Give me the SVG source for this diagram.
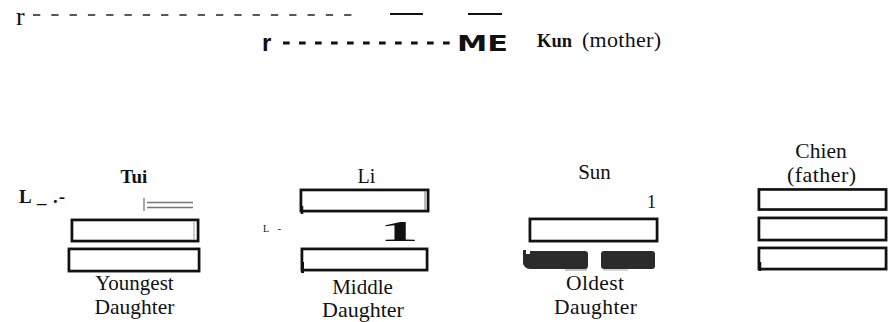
<svg xmlns="http://www.w3.org/2000/svg" width="890" height="322" viewBox="0 0 890 322">
<style>
.serif{font-family:"Liberation Serif","Times New Roman",serif;fill:#111}
.b{font-weight:bold}
.bar{fill:#fff;stroke:#111;stroke-width:2.6}
.halo{fill:none;stroke:#9a9a9a;stroke-width:1}
.blk{fill:#2b2b2b}
.grey{stroke:#777;stroke-width:1.3;fill:none}
</style>
<rect width="890" height="322" fill="#fff"/>
<g id="lines">
  <line x1="33" y1="15" x2="352" y2="15" stroke="#222" stroke-width="1.4" stroke-dasharray="7.3 11"/>
  <line x1="390" y1="14" x2="423" y2="14" stroke="#111" stroke-width="1.8"/>
  <line x1="468" y1="14" x2="502" y2="14" stroke="#111" stroke-width="1.8"/>
  <line x1="283" y1="43" x2="450" y2="43" stroke="#111" stroke-width="3" stroke-dasharray="6.7 9.3"/>
</g>
<g id="kun">
  <text class="serif" x="16" y="25" font-size="26">r</text>
  <text x="262" y="51" font-size="24" font-weight="bold" font-family="Liberation Sans, Arial, sans-serif" fill="#111">r</text>
  <text x="457" y="51" font-size="20.5" font-weight="bold" font-family="DejaVu Sans, sans-serif" fill="#111" textLength="51" lengthAdjust="spacingAndGlyphs">ME</text>
  <text class="serif b" x="537" y="47" font-size="18.5">Kun</text>
  <text class="serif" x="582" y="47" font-size="22" textLength="79">(mother)</text>
</g>
<g id="tui">
  <text class="serif b" x="134" y="183" font-size="19" text-anchor="middle">Tui</text>
  <text class="serif b" x="19" y="203" font-size="19" textLength="46">L _ .-</text>
  <line class="grey" x1="144" y1="198" x2="144" y2="211"/>
  <line class="grey" x1="147" y1="202.5" x2="193" y2="202.5"/>
  <line class="grey" x1="147" y1="207.5" x2="193" y2="207.5"/>
  <rect class="halo" x="71" y="219" width="128" height="23"/>
  <rect class="bar" x="72" y="220" width="126" height="21"/>
  <line x1="194" y1="222" x2="194" y2="239" stroke="#999" stroke-width="1"/>
  <rect class="halo" x="68" y="248" width="132" height="24"/>
  <rect class="bar" x="69" y="249" width="130" height="22"/>
  <text class="serif" x="134.5" y="290" font-size="21" text-anchor="middle">Youngest</text>
  <text class="serif" x="134.5" y="314" font-size="21.5" text-anchor="middle">Daughter</text>
</g>
<g id="li">
  <text class="serif" x="366.5" y="183" font-size="20" text-anchor="middle">Li</text>
  <rect class="halo" x="300" y="189" width="129" height="23"/>
  <rect class="bar" x="301" y="190" width="127" height="21"/>
  <line x1="425" y1="191" x2="425" y2="210" stroke="#777" stroke-width="1"/>
  <line x1="302" y1="206" x2="302" y2="214" stroke="#111" stroke-width="2.5"/>
  <text class="serif" x="263" y="232" font-size="10" textLength="18">L -</text>
  <text class="serif b" x="379" y="241" font-size="29" textLength="40" lengthAdjust="spacingAndGlyphs">1</text>
  <rect class="halo" x="301" y="248" width="127" height="23"/>
  <rect class="bar" x="302" y="249" width="125" height="21"/>
  <line x1="302.5" y1="262" x2="302.5" y2="273" stroke="#111" stroke-width="3"/>
  <text class="serif" x="362.5" y="294" font-size="21" text-anchor="middle">Middle</text>
  <text class="serif" x="363" y="317" font-size="22" text-anchor="middle">Daughter</text>
</g>
<g id="sun">
  <text class="serif" x="594.5" y="179" font-size="21" text-anchor="middle">Sun</text>
  <text class="serif" x="647" y="208" font-size="18">1</text>
  <rect class="halo" x="529" y="218" width="129" height="24"/>
  <rect class="bar" x="530" y="219" width="127" height="22"/>
  <path class="blk" d="M523 250 h3 v4 h4 v-3 h55 q3 0 3 3 v12 q0 3 -3 3 h-55 q-3 0 -5 -2 l-2 -3 z"/>
  <rect class="blk" x="601" y="251" width="54" height="18" rx="3"/>
  <line x1="565" y1="270" x2="587" y2="270" stroke="#888" stroke-width="1"/>
  <line x1="603" y1="270" x2="628" y2="270" stroke="#aaa" stroke-width="1"/>
  <text class="serif" x="595" y="290" font-size="21.5" text-anchor="middle" textLength="58" fill="#222">Oldest</text>
  <text class="serif" x="595.5" y="314" font-size="21.5" text-anchor="middle" textLength="83" fill="#222">Daughter</text>
</g>
<g id="chien">
  <text class="serif" x="821" y="158" font-size="21.5" text-anchor="middle">Chien</text>
  <text class="serif" x="821.5" y="182" font-size="22" text-anchor="middle" textLength="69">(father)</text>
  <rect class="halo" x="758" y="188.5" width="129" height="22"/>
  <rect class="bar" x="759" y="189.5" width="127" height="20"/>
  <rect class="halo" x="758" y="217" width="129" height="24"/>
  <rect class="bar" x="759" y="218" width="127" height="22"/>
  <rect class="halo" x="758" y="247" width="129" height="23"/>
  <rect class="bar" x="759" y="248" width="127" height="21"/>
  <line x1="760" y1="262" x2="760" y2="271" stroke="#111" stroke-width="2.5"/>
</g>
</svg>
